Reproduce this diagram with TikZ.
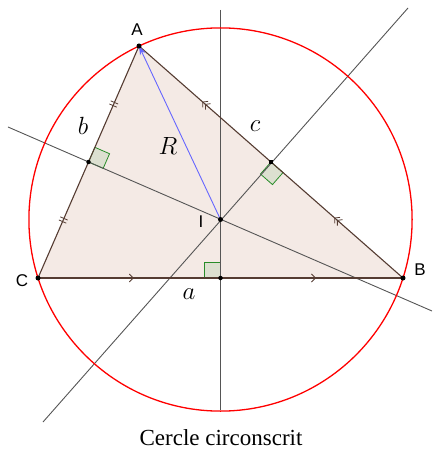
\documentclass[tikz,border=0pt]{standalone}
\usepackage{fontspec}
\newfontfamily\capfont{Liberation Serif}
\newfontfamily\labfont{Liberation Sans}
\usetikzlibrary{calc,decorations.markings,arrows.meta}
\definecolor{trifill}{RGB}{244,234,229}
\definecolor{triedge}{RGB}{85,60,50}
\definecolor{lgray}{RGB}{85,85,85}
\definecolor{rblue}{RGB}{102,102,255}
\definecolor{rafill}{RGB}{220,224,208}
\definecolor{raedge}{RGB}{40,140,40}
\tikzset{
  ptdot/.style={circle,fill=black,inner sep=0pt,minimum size=5pt},
  vlabel/.style={font=\labfont\fontsize{17}{19}\selectfont,inner sep=0pt},
  mlabel/.style={font=\fontsize{24}{28}\selectfont,inner sep=0pt},
  medline/.style={draw=lgray,line width=0.9pt},
  edge/.style={draw=triedge,line width=1.1pt},
  rabox/.style={draw=raedge,fill=rafill,line width=0.8pt},
  dtick/.style={postaction={decorate},decoration={markings,
    mark=at position 0.25 with {\draw[triedge,line width=0.8pt] (-1.7pt,-4pt)--(-1.7pt,4pt) (1.7pt,-4pt)--(1.7pt,4pt);},
    mark=at position 0.75 with {\draw[triedge,line width=0.8pt] (-1.7pt,-4pt)--(-1.7pt,4pt) (1.7pt,-4pt)--(1.7pt,4pt);}}},
  darr/.style={postaction={decorate},decoration={markings,
    mark=at position 0.25 with {\draw[triedge,line width=0.8pt] (-4pt,4pt)--(-0.5pt,0)--(-4pt,-4pt) (-0.5pt,4pt)--(3pt,0)--(-0.5pt,-4pt);},
    mark=at position 0.75 with {\draw[triedge,line width=0.8pt] (-4pt,4pt)--(-0.5pt,0)--(-4pt,-4pt) (-0.5pt,4pt)--(3pt,0)--(-0.5pt,-4pt);}}},
  sarr/.style={postaction={decorate},decoration={markings,
    mark=at position 0.257 with {\draw[triedge,line width=0.8pt] (-2.5pt,4pt)--(1.5pt,0)--(-2.5pt,-4pt);},
    mark=at position 0.756 with {\draw[triedge,line width=0.8pt] (-2.5pt,4pt)--(1.5pt,0)--(-2.5pt,-4pt);}}}
}
\begin{document}
\begin{tikzpicture}[x=1pt,y=-1pt]
\useasboundingbox (0,0) rectangle (433,454);
% points
\coordinate (A) at (139,46);
\coordinate (B) at (403,278);
\coordinate (C) at (38,278);
\coordinate (I) at (220.5,219.5);
\coordinate (Mb) at (88.5,162);
\coordinate (Mc) at (271,162);
\coordinate (Ma) at (220.5,278);
% line ends
\coordinate (V1) at (220.5,10);
\coordinate (V2) at (220.5,410);
\coordinate (P1) at (43,422);
\coordinate (P2) at (408,8);
\coordinate (Q1) at (8,127);
\coordinate (Q2) at (432,311);
% triangle fill
\fill[trifill] (A) -- (B) -- (C) -- cycle;
% right angle boxes
\coordinate (ra1) at ($(Mb)!16pt!(A)$);
\coordinate (ra2) at ($(Mb)!16pt!(I)$);
\draw[rabox] (Mb) -- (ra1) -- ($(ra1)+(ra2)-(Mb)$) -- (ra2) -- cycle;
\coordinate (rc1) at ($(Mc)!16pt!(B)$);
\coordinate (rc2) at ($(Mc)!16pt!(I)$);
\draw[rabox] (Mc) -- (rc1) -- ($(rc1)+(rc2)-(Mc)$) -- (rc2) -- cycle;
\coordinate (rb1) at ($(Ma)!16pt!(C)$);
\coordinate (rb2) at ($(Ma)!16pt!(I)$);
\draw[rabox] (Ma) -- (rb1) -- ($(rb1)+(rb2)-(Ma)$) -- (rb2) -- cycle;
% perpendicular bisectors
\draw[medline] (V1) -- (V2);
\draw[medline] (P1) -- (P2);
\draw[medline] (Q1) -- (Q2);
% triangle edges
\draw[edge,dtick] (C) -- (A);
\draw[edge,darr] (B) -- (A);
\draw[edge,sarr] (C) -- (B);
% circle
\draw[red,line width=1.3pt] (I) circle (191.6);
% radius arrow
\draw[rblue,line width=0.9pt,-{Stealth[length=9pt,width=6pt]}] (I) -- (A);
% dots
\node[ptdot] (nA) at (A) {};
\node[ptdot] (nB) at (B) {};
\node[ptdot] (nC) at (C) {};
\node[ptdot] (nI) at (I) {};
\node[ptdot,minimum size=4.5pt] (nMb) at (Mb) {};
\node[ptdot,minimum size=4.5pt,rectangle] (nMc) at (Mc) {};
\node[ptdot,minimum size=4.5pt] (nMa) at (Ma) {};
% labels
\node[vlabel] (lA) at (137,30) {A};
\node[vlabel] (lB) at (420,270) {B};
\node[vlabel] (lC) at (22,281) {C};
\node[vlabel] (lI) at (201,222) {I};
\node[mlabel] (lb) at (83,126) {$b$};
\node[mlabel] (lc) at (255,126) {$c$};
\node[mlabel] (lR) at (168,146) {$R$};
\node[mlabel] (la) at (189,294) {$a$};
\node[font=\capfont\fontsize{23}{27}\selectfont,inner sep=0pt] (cap) at (221,438) {Cercle circonscrit};
\end{tikzpicture}
\end{document}
